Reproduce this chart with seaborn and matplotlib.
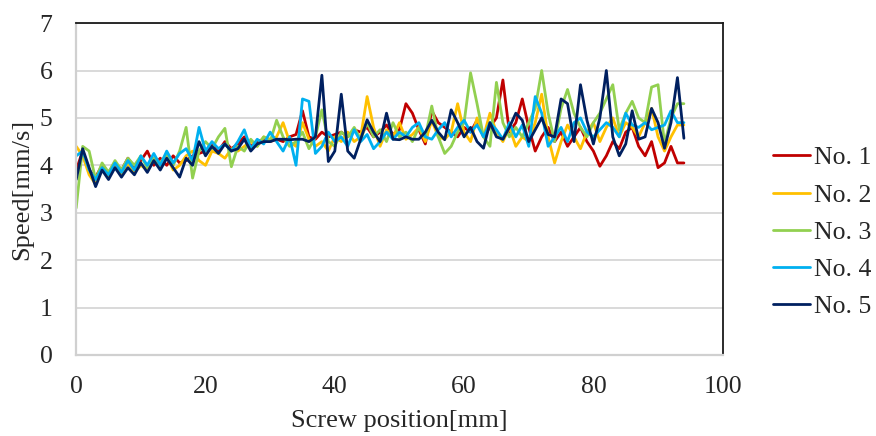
import matplotlib
matplotlib.use("Agg")
import matplotlib.pyplot as plt
import seaborn as sns
import pandas as pd

# Screw position [mm] for every sample
positions = list(range(95))

speed_no1 = [3.9, 4.3, 3.9, 3.75, 4.0, 3.85, 4.05, 3.9, 4.15, 3.95,
             4.1, 4.3, 4.0, 4.15, 4.0, 4.2, 4.05, 4.1, 4.2, 4.25,
             4.3, 4.45, 4.3, 4.5, 4.35, 4.45, 4.6, 4.4, 4.5, 4.55,
             4.5, 4.55, 4.5, 4.6, 4.65, 5.15, 4.6, 4.55, 4.7, 4.6,
             4.65, 4.7, 4.6, 4.75, 4.7, 4.8, 4.6, 4.7, 4.85, 4.65,
             4.75, 5.3, 5.1, 4.75, 4.45, 5.15, 4.9, 4.8, 4.7, 4.6,
             4.8, 4.7, 4.95, 4.6, 4.8, 5.0, 5.8, 4.7, 4.9, 5.4,
             4.8, 4.3, 4.6, 4.8, 4.5, 4.7, 4.4, 4.6, 4.8, 4.5,
             4.3, 3.98, 4.2, 4.5, 4.35, 4.7, 4.8, 4.4, 4.2, 4.5,
             3.95, 4.05, 4.4, 4.05, 4.05]

speed_no2 = [4.4, 4.2, 3.8, 3.6, 3.95, 3.75, 4.0, 3.8, 4.05, 3.85,
             4.0, 3.9, 4.1, 3.95, 4.2, 3.9, 4.0, 4.2, 4.3, 4.1,
             4.0, 4.3, 4.25, 4.15, 4.35, 4.3, 4.4, 4.5, 4.4, 4.6,
             4.55, 4.6, 4.9, 4.5, 4.4, 4.9, 4.55, 4.4, 4.5, 4.3,
             4.6, 4.5, 4.7, 4.5, 4.6, 5.45, 4.8, 4.4, 4.75, 4.6,
             4.9, 4.55, 4.65, 4.8, 4.5, 4.95, 4.6, 4.55, 4.7, 5.3,
             4.7, 4.5, 5.0, 4.6, 5.1, 4.7, 4.5, 4.8, 4.4, 4.6,
             4.5, 4.9, 5.5, 4.6, 4.05, 4.5, 4.85, 4.6, 4.35, 4.7,
             4.9, 4.5, 4.8, 5.0, 4.6, 4.9, 4.8, 4.6, 4.9, 5.2,
             4.6, 4.3, 4.6, 4.85, 4.85]

speed_no3 = [3.1, 4.4, 4.3, 3.7, 4.05, 3.85, 4.1, 3.9, 4.15, 4.0,
             4.2, 3.95, 4.15, 4.05, 4.25, 4.0, 4.3, 4.8, 3.73, 4.3,
             4.5, 4.35, 4.6, 4.78, 3.97, 4.4, 4.3, 4.55, 4.4, 4.6,
             4.5, 4.95, 4.6, 4.4, 4.5, 4.7, 4.35, 4.6, 5.17, 4.5,
             4.4, 4.7, 4.6, 4.8, 4.55, 4.9, 4.6, 4.75, 4.5, 4.9,
             4.6, 4.7, 4.5, 4.8, 4.6, 5.25, 4.6, 4.25, 4.4, 4.7,
             4.9, 5.95, 5.3, 4.6, 4.4, 5.75, 4.9, 4.6, 4.8, 4.6,
             4.9, 5.2, 6.0, 5.1, 4.5, 5.2, 5.6, 5.1, 4.8, 4.6,
             4.9, 5.1, 5.4, 5.7, 4.75, 5.1, 5.35, 5.0, 4.9, 5.65,
             5.7, 4.45, 5.0, 5.3, 5.3]

speed_no4 = [4.2, 4.3, 3.9, 3.7, 3.95, 3.8, 4.05, 3.85, 4.1, 3.9,
             4.2, 4.0, 4.25, 4.0, 4.3, 4.05, 4.25, 4.35, 4.1, 4.8,
             4.3, 4.5, 4.35, 4.45, 4.3, 4.5, 4.75, 4.35, 4.55, 4.45,
             4.7, 4.5, 4.3, 4.6, 4.0, 5.4, 5.35, 4.25, 4.4, 4.7,
             4.5, 4.6, 4.4, 4.75, 4.5, 4.65, 4.35, 4.5, 4.7, 4.55,
             4.7, 4.6, 4.8, 4.9, 4.6, 4.55, 4.75, 4.9, 4.6, 4.8,
             4.95, 4.7, 4.85, 4.6, 4.9, 4.75, 4.55, 4.9, 4.6, 4.85,
             4.4, 5.45, 5.1, 4.4, 4.6, 4.8, 4.5, 4.9, 5.0, 4.7,
             4.6, 4.75, 4.9, 4.8, 4.6, 5.1, 4.85, 4.8, 4.9, 4.75,
             4.8, 4.85, 5.15, 4.9, 4.9]

speed_no5 = [3.7, 4.35, 3.95, 3.55, 3.9, 3.7, 3.95, 3.75, 3.95, 3.8,
             4.05, 3.85, 4.1, 3.9, 4.15, 3.95, 3.75, 4.15, 4.0, 4.5,
             4.2, 4.4, 4.25, 4.45, 4.3, 4.35, 4.55, 4.3, 4.45, 4.5,
             4.5, 4.55, 4.55, 4.54, 4.55, 4.55, 4.5, 4.6, 5.9, 4.08,
             4.3, 5.5, 4.3, 4.15, 4.55, 4.96, 4.7, 4.5, 5.1, 4.55,
             4.54, 4.6, 4.55, 4.55, 4.7, 4.95, 4.7, 4.54, 5.17, 4.9,
             4.6, 4.8, 4.5, 4.36, 4.9, 4.6, 4.55, 4.8, 5.1, 4.95,
             4.5, 4.75, 5.0, 4.65, 4.6, 5.4, 5.3, 4.5, 5.7, 4.95,
             4.45, 5.0, 6.0, 4.6, 4.2, 4.45, 5.15, 4.55, 4.6, 5.2,
             4.9, 4.36, 4.9, 5.85, 4.57]

series_names = ["No. 1", "No. 2", "No. 3", "No. 4", "No. 5"]
series_values = [speed_no1, speed_no2, speed_no3, speed_no4, speed_no5]
series_colors = ["#C00000", "#FFC000", "#92D050", "#00B0F0", "#002060"]

frames = [pd.DataFrame({"position": positions, "speed": vals, "run": name})
          for name, vals in zip(series_names, series_values)]
data = pd.concat(frames, ignore_index=True)

sns.set_theme(style="white")
plt.rcParams["font.family"] = ["Liberation Serif", "DejaVu Serif"]

fig = plt.figure(figsize=(8.76, 4.36), dpi=100)
ax = fig.add_axes([0.087, 0.186, 0.738, 0.761])

sns.lineplot(data=data, x="position", y="speed", hue="run",
             palette=dict(zip(series_names, series_colors)),
             estimator=None, sort=False, linewidth=2.0, ax=ax)

ax.set_xlim(0, 100)
ax.set_ylim(0, 7)
ax.set_xticks(range(0, 101, 20))
ax.set_yticks(range(0, 8))
ax.tick_params(axis="x", length=0, labelsize=18.5, pad=15)
ax.tick_params(axis="y", length=0, labelsize=18.5, pad=17)
ax.yaxis.grid(True, color="#D9D9D9", linewidth=1.4)
ax.set_axisbelow(True)

for side in ("top", "right"):
    ax.spines[side].set_color("#1a1a1a")
    ax.spines[side].set_linewidth(1.3)
for side in ("left", "bottom"):
    ax.spines[side].set_color("#D0D0D0")
    ax.spines[side].set_linewidth(1.6)

ax.set_xlabel("Screw position[mm]", fontsize=19, labelpad=9)
ax.set_ylabel("Speed[mm/s]", fontsize=19, labelpad=5)

handles, labels = ax.get_legend_handles_labels()
for h in handles:
    h.set_linewidth(2.0)
ax.legend(handles, labels, loc="center left", bbox_to_anchor=(1.062, 0.37),
          frameon=False, fontsize=18.5, handlelength=1.45, handletextpad=0.15,
          labelspacing=0.55, borderaxespad=0)

fig.savefig("out.png", dpi=100)
